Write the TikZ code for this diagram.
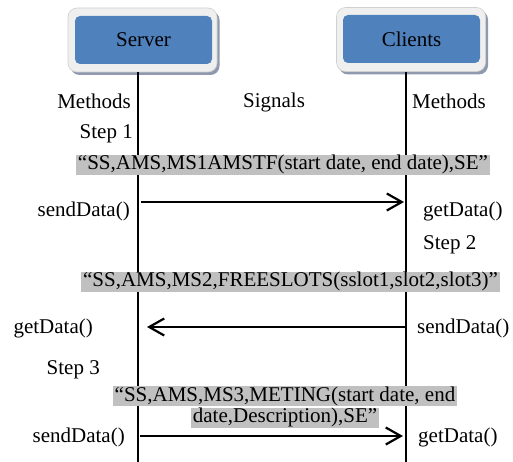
\documentclass[tikz,border=0pt]{standalone}
\usepackage{fontspec}
\setmainfont{Liberation Serif}
\newfontfamily\diagramfont{Liberation Serif}
\usetikzlibrary{arrows.meta,shadows}
\definecolor{boxblue}{HTML}{4F81BD}
\definecolor{framegray}{HTML}{EFEFEF}
\definecolor{framerim}{HTML}{D0D0D0}
\definecolor{shadowgray}{HTML}{8F9AAE}
\definecolor{msggray}{HTML}{C0C0C0}
% grey highlight band behind one line of message text
\newcommand{\msgband}[1]{{\setlength{\fboxsep}{0pt}\colorbox{msggray}{\hspace{2pt}\rule[-5pt]{0pt}{16.5pt}#1\hspace{2pt}}}}
\begin{document}
\begin{tikzpicture}[x=1pt,y=-1pt,
  every node/.style={font=\diagramfont\fontsize{21}{25}\selectfont, inner sep=0pt},
  frame/.style={rectangle, rounded corners=9pt, fill=framegray, draw=framerim,
    line width=0.6pt, minimum width=149pt, minimum height=64pt,
    drop shadow={shadow xshift=2.5pt, shadow yshift=-3pt, fill=shadowgray, opacity=1}},
  actor/.style={rectangle, rounded corners=5pt, fill=boxblue,
    minimum width=137pt, minimum height=48pt},
  lifeline/.style={line width=1.8pt},
  msg/.style={align=center, font=\diagramfont\fontsize{21}{21.5}\selectfont},
  call/.style={line width=2.2pt, -{Straight Barb[length=15pt,width=17pt,line width=2.2pt]}}
]
\useasboundingbox (0,0) rectangle (513,462);

% participants
\node[frame] (sframe) at (142.5,40) {};
\node[actor] (server) at (143.5,40) {Server};
\node[frame] (cframe) at (411,39.5) {};
\node[actor] (clients) at (411.5,39) {Clients};

% lifeline anchors
\coordinate (sx) at (138,0);
\coordinate (cx) at (406,0);
\coordinate (sbot) at (138,462);
\coordinate (cbot) at (406,462);
\draw[lifeline] (sframe.south -| sx) -- (sbot);
\draw[lifeline] (cframe.south -| cx) -- (cbot);

% headings
\node[anchor=east] (methL) at (131,101) {Methods};
\node (signals) at (274,102) {Signals};
\node[anchor=west] (methR) at (412,101) {Methods};

% step 1
\node[anchor=east] (step1) at (133,134) {Step 1};
\node[msg] (msg1) at (283,165) {\msgband{“SS,AMS,MS1AMSTF(start date, end date),SE”}};
\coordinate (s1) at (138,202);
\coordinate (c1) at (406,202);
\draw[call, shorten <=3pt, shorten >=2pt] (s1) -- (c1);
\node[anchor=east] (send1) at (130,211) {sendData()};
\node[anchor=west] (get1) at (423,211) {getData()};

% step 2
\node[anchor=west] (step2) at (423,245) {Step 2};
\node[msg] (msg2) at (290.5,282) {\msgband{“SS,AMS,MS2,FREESLOTS(sslot1,slot2,slot3)”}};
\coordinate (s2) at (138,327);
\coordinate (c2) at (406,327);
\draw[call, shorten >=9pt] (c2) -- (s2);
\node[anchor=east] (get2) at (93,328) {getData()};
\node[anchor=west] (send2) at (417,328) {sendData()};

% step 3
\node[anchor=east] (step3) at (100,370) {Step 3};
\node[msg] (msg3) at (285,407) {\msgband{“SS,AMS,MS3,METING(start date, end}\\
  \msgband{date,Description),SE”}};
\coordinate (s3) at (138,436);
\coordinate (c3) at (406,436);
\draw[call, shorten <=2pt, shorten >=3pt] (s3) -- (c3);
\node[anchor=east] (send3) at (125,437) {sendData()};
\node[anchor=west] (get3) at (418,437) {getData()};
\end{tikzpicture}
\end{document}
